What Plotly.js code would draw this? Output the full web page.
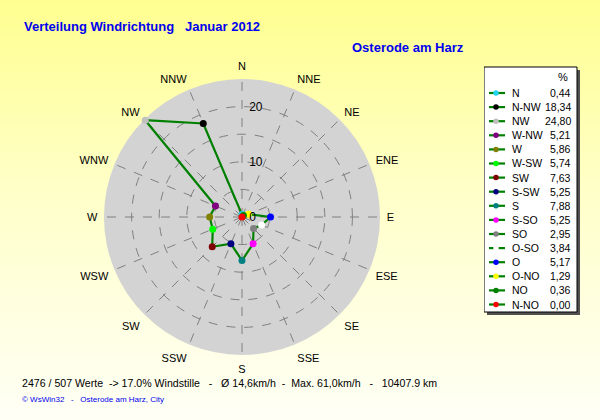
<!DOCTYPE html>
<html>
<head>
<meta charset="utf-8">
<script src="https://cdn.plot.ly/plotly-3.0.1.min.js"></script>
<style>
  html, body { margin:0; padding:0; }
  body { width:600px; height:420px; background: linear-gradient(to bottom, #ffff90 0%, #ffffc8 45%, #fffff6 100%); }
  #chart { width:600px; height:420px; }
</style>
</head>
<body>
<div id="chart"></div>
<script>
// ---- data ----
const dirNames   = ['N','N-NW','NW','W-NW','W','W-SW','SW','S-SW','S','S-SO','SO','O-SO','O','O-NO','NO','N-NO'];
const dirAngles  = [0, 337.5, 315, 292.5, 270, 247.5, 225, 202.5, 180, 157.5, 135, 112.5, 90, 67.5, 45, 22.5];
const dirValues  = [0.44, 18.34, 24.80, 5.21, 5.86, 5.74, 7.63, 5.25, 7.88, 5.25, 2.95, 3.84, 5.17, 1.29, 0.36, 0.00];
const dirColors  = ['#22d4ec','#000000','#c0c0c0','#800080','#808000','#00ff00','#800000','#000080','#008080','#ff00ff','#808080','#ffffff','#0000ff','#ffff00','#008000','#ff0000'];
const compassTickVals = [0,22.5,45,67.5,90,112.5,135,157.5,180,202.5,225,247.5,270,292.5,315,337.5];
const compassTickText = ['N','NNE','NE','ENE','E','ESE','SE','SSE','S','SSW','SW','WSW','W','WNW','NW','NNW'];
const radialTickVals = [0,5,10,15,20];
const radialTickLabels = ['0','','10','','20'];
const titleText = 'Verteilung Windrichtung\u00a0\u00a0\u00a0Januar 2012';
const stationText = 'Osterode am Harz';
const footerText = '2476 / 507 Werte \u00a0-> 17.0% Windstille \u00a0\u00a0-\u00a0\u00a0\u00a0\u00d8 14,6km/h \u00a0-\u00a0 Max. 61,0km/h \u00a0\u00a0-\u00a0\u00a0\u00a010407.9 km';
const creditText = '\u00a9 WsWin32 \u00a0\u00a0-\u00a0\u00a0\u00a0Osterode am Harz, City';

const W = 600, H = 420;
const px = x => x / W;
const py = y => 1 - y / H;
const FONT = 'Liberation Sans, Arial, sans-serif';

// radial labels sit to the right of the north spoke: pad on the left
const pad = '\u00a0'.repeat(2);
const radialTickText = radialTickLabels.map(t => t ? pad + t : t);

// closed outline
const rLine = dirValues.concat([dirValues[0]]);
const tLine = dirAngles.concat([dirAngles[0]]);

const traces = [
  { type:'scatterpolar', r:rLine, theta:tLine, mode:'lines',
    line:{color:'#008000', width:2.2}, hoverinfo:'skip', showlegend:false },
  { type:'scatterpolar', r:dirValues, theta:dirAngles, mode:'markers',
    marker:{color:dirColors, size:7, line:{width:0}}, text:dirNames, showlegend:false }
];

// legend built on a hidden cartesian axis (1 unit = 1 px)
const rowY = dirNames.map((_, i) => 93 + i * 14.1);
const lx = [], ly = [];
rowY.forEach(y => { lx.push(5, 21, null); ly.push(y, y, null); });
traces.push({ type:'scatter', x:lx, y:ly, mode:'lines', line:{color:'#008000', width:2.2},
  xaxis:'x', yaxis:'y', hoverinfo:'skip', showlegend:false });
traces.push({ type:'scatter', x:rowY.map(() => 12), y:rowY, mode:'markers',
  marker:{color:dirColors, size:5.5, line:{width:0}}, xaxis:'x', yaxis:'y', hoverinfo:'skip', showlegend:false });

const annotations = [
  { text:titleText, xref:'paper', yref:'paper', x:px(22), y:py(26), xanchor:'left', yanchor:'middle', showarrow:false,
    font:{family:FONT, size:13, color:'#0000ee', weight:'bold'} },
  { text:stationText, xref:'paper', yref:'paper', x:px(350), y:py(47), xanchor:'left', yanchor:'middle', showarrow:false,
    font:{family:FONT, size:13, color:'#0000ee', weight:'bold'} },
  { text:footerText, xref:'paper', yref:'paper', x:px(20), y:py(383), xanchor:'left', yanchor:'middle', showarrow:false,
    font:{family:FONT, size:10.6, color:'#000000'} },
  { text:creditText, xref:'paper', yref:'paper', x:px(20), y:py(399), xanchor:'left', yanchor:'middle', showarrow:false,
    font:{family:FONT, size:8, color:'#0000ee'} },
  { text:'%', xref:'x', yref:'y', x:79, y:77, xanchor:'center', yanchor:'middle', showarrow:false,
    font:{family:FONT, size:11, color:'#000000'} }
];
dirNames.forEach((n, i) => {
  annotations.push({ text:n, xref:'x', yref:'y', x:26, y:rowY[i], xanchor:'left', yanchor:'middle', showarrow:false,
    font:{family:FONT, size:10.5, color:'#000000'} });
  annotations.push({ text:dirValues[i].toFixed(2).replace('.', ','), xref:'x', yref:'y', x:89, y:rowY[i], xanchor:'right', yanchor:'middle', showarrow:false,
    font:{family:FONT, size:10.5, color:'#000000'} });
});

const shapes = [
  { type:'rect', xref:'x', yref:'y', x0:3, x1:96, y0:70, y1:315, fillcolor:'#505050', line:{width:0}, layer:'below' },
  { type:'rect', xref:'x', yref:'y', x0:0, x1:93, y0:67, y1:312, fillcolor:'#ffffff', line:{color:'#000000', width:1}, layer:'below' }
];

const layout = {
  width:W, height:H,
  margin:{l:0, r:0, t:0, b:0},
  paper_bgcolor:'rgba(0,0,0,0)',
  plot_bgcolor:'rgba(0,0,0,0)',
  showlegend:false,
  font:{family:FONT, size:11, color:'#000000'},
  polar:{
    domain:{x:[px(104), px(380)], y:[py(355), py(79)]},
    bgcolor:'#d3d3d3',
    angularaxis:{
      direction:'clockwise', rotation:90, thetaunit:'degrees',
      tickmode:'array', tickvals:compassTickVals, ticktext:compassTickText,
      showline:false, ticks:'outside', ticklen:4, tickcolor:'rgba(0,0,0,0)',
      gridcolor:'#808080', griddash:'dash', gridwidth:1,
      tickfont:{family:FONT, size:11, color:'#000000'}
    },
    radialaxis:{
      range:[0,25], angle:90, tickangle:90,
      tickmode:'array', tickvals:radialTickVals, ticktext:radialTickText,
      showline:false, ticks:'', gridcolor:'#808080', griddash:'dash', gridwidth:1,
      tickfont:{family:FONT, size:12, color:'#000000'}
    }
  },
  xaxis:{domain:[px(484), px(600)], range:[0, 116], visible:false, fixedrange:true},
  yaxis:{domain:[py(330), py(60)], range:[330, 60], visible:false, fixedrange:true},
  annotations:annotations,
  shapes:shapes
};

Plotly.newPlot('chart', traces, layout, {displayModeBar:false, staticPlot:true});
</script>
</body>
</html>
